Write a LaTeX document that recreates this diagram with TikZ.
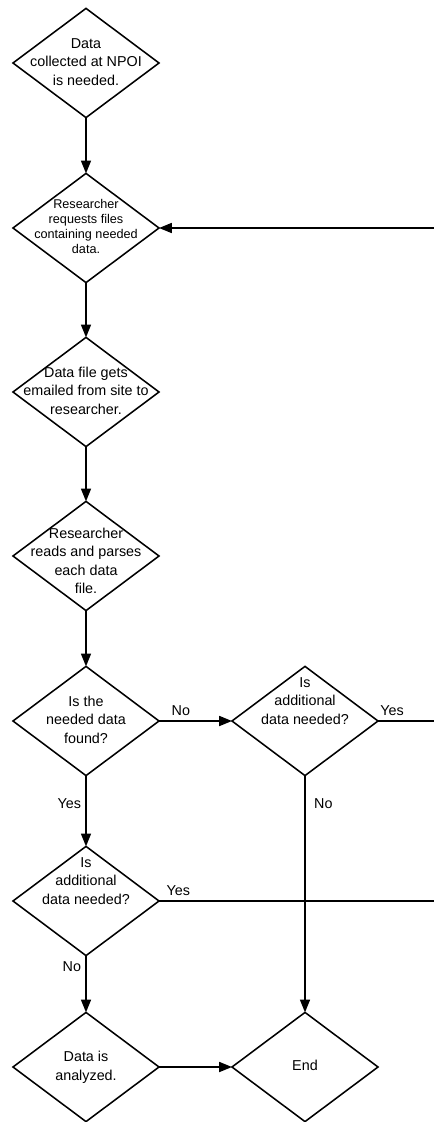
\documentclass[tikz,border=0pt]{standalone}
\usepackage{fontspec}
\setmainfont{Liberation Sans}
\usepackage{tikz}
\usetikzlibrary{shapes.geometric,arrows.meta}

% text set in a box of no size, so the diamond keeps its own size
\newcommand{\dtext}[2][c]{\makebox[0pt]{\smash{\raisebox{-2.5pt}{\begin{tabular}[#1]{@{}c@{}}#2\end{tabular}}}}}

\begin{document}
\begin{tikzpicture}[x=0.25mm, y=-0.25mm, >={Triangle[length=3.2mm,width=2.5mm]},
  decision/.style={diamond, draw, line width=1.1pt, minimum width=36.5mm,
    minimum height=27.3mm, inner sep=0pt, outer sep=0pt,
    font=\fontsize{10.2}{13.2}\selectfont},
  small text/.style={font=\fontsize{9}{10.6}\selectfont},
  flow/.style={->, line width=1.1pt},
  tag/.style={font=\fontsize{10.2}{13}\selectfont, inner sep=3pt}]

\useasboundingbox (0,0) rectangle (434,1122);

\node [decision] (collect) at (86,63) {\dtext{Data\\collected at NPOI\\is needed.}};
\node [decision, small text] (request) at (86,228) {\dtext{Researcher\\requests files\\containing needed\\data.}};
\node [decision] (email) at (86,392) {\dtext{Data file gets\\emailed from site to\\researcher.}};
\node [decision] (parse) at (86,556) {\dtext{\rule{0pt}{18pt}Researcher\\reads and parses\\each data\\file.}};
\node [decision] (found) at (86,721) {\dtext{Is the\\needed data\\found?}};
\node [decision] (more-1) at (305,721) {\dtext[b]{Is\\additional\\data needed?}};
\node [decision] (more-2) at (86,901) {\dtext[b]{Is\\additional\\data needed?}};
\node [decision] (analyze) at (86,1067) {\dtext{Data is\\analyzed.}};
\node [decision] (finish) at (305,1067) {\dtext{End}};

\foreach \y [count=\i] in {228,721,901}
  \coordinate (edge-\i) at (434,\y);

\foreach \a/\b in {collect/request, request/email, email/parse, parse/found}
  \draw [flow] (\a) -- (\b);

\draw [flow] (edge-1) -- (request);

\draw [flow] (found) -- node [tag, above, pos=0.3] {No} (more-1);
\draw [line width=1.1pt] (more-1) -- node [tag, above, pos=0.25] {Yes} (edge-2);
\draw [flow] (found) -- node [tag, left, pos=0.4] {Yes} (more-2);
\draw [flow] (more-1) -- node [tag, right, pos=0.12, xshift=3pt] {No} (finish);
\draw [line width=1.1pt] (more-2) -- node [tag, above, pos=0.07] {Yes} (edge-3);
\draw [flow] (more-2) -- node [tag, left, pos=0.2] {No} (analyze);
\draw [flow] (analyze) -- (finish);

\end{tikzpicture}
\end{document}
